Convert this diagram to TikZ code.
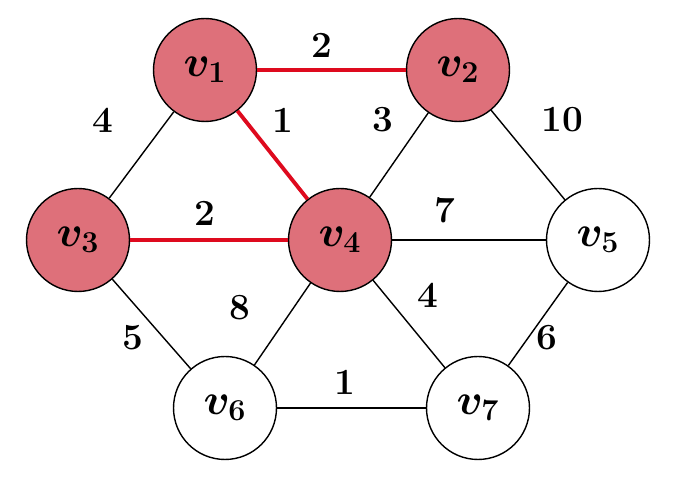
\documentclass[tikz,border=0pt]{standalone}
\usepackage{tikz}
\usetikzlibrary{positioning}
\definecolor{visit}{RGB}{222,112,122}
\definecolor{tree}{RGB}{222,10,30}
\begin{document}
\begin{tikzpicture}[x=0.02cm,y=-0.02cm,
    vert/.style={circle,draw,thick,minimum size=2.06cm,inner sep=0pt,font=\fontsize{26}{28}\selectfont\boldmath},
    done/.style={vert,fill=visit},
    wt/.style={font=\fontsize{21}{23}\selectfont\bfseries}]
    \useasboundingbox (0,0) rectangle (687,482);
    % vertices
    \node[done] (1) at (205,70) {$v_1$};
    \node[done] (2) at (458,70) {$v_2$};
    \node[done] (3) at (78,240) {$v_3$};
    \node[done] (4) at (340,240) {$v_4$};
    \node[vert] (5) at (598,240) {$v_5$};
    \node[vert] (6) at (225,408) {$v_6$};
    \node[vert] (7) at (478,408) {$v_7$};

    % edges
    \path[thick]
    (1) edge (3)
    (2) edge (4)
        edge (5)
    (4) edge (5)
        edge (6)
        edge (7)
    (3) edge (6)
    (5) edge (7)
    (6) edge (7);
    \path[tree,line width=2.2pt]
    (1) edge (2)
        edge (4)
    (3) edge (4);

    % weights
    \node[wt] (w12) at (322,45) {2};
    \node[wt] (w13) at (103,120) {4};
    \node[wt] (w14) at (283,120) {1};
    \node[wt] (w24) at (383,120) {3};
    \node[wt] (w25) at (562,120) {10};
    \node[wt] (w34) at (205,213) {2};
    \node[wt] (w45) at (445,210) {7};
    \node[wt] (w36) at (133,338) {5};
    \node[wt] (w46) at (240,308) {8};
    \node[wt] (w47) at (428,295) {4};
    \node[wt] (w57) at (547,338) {6};
    \node[wt] (w67) at (345,382) {1};
\end{tikzpicture}
\end{document}
